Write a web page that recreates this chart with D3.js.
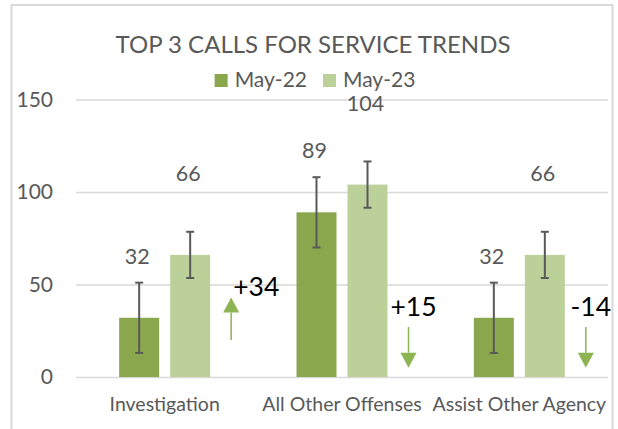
<!DOCTYPE html>
<html lang="en">
<head>
    <meta charset="UTF-8">
    <title>Top 3 Calls for Service Trends</title>
    <script src="https://cdn.jsdelivr.net/npm/d3@7/dist/d3.min.js"></script>
    <style>
        body { margin: 0; background: #fff; }
        svg text { font-family: Lato, "Liberation Sans", sans-serif; }
    </style>
</head>
<body>
<script type="text/javascript">
    // data
    var categories = ['Investigation', 'All Other Offenses', 'Assist Other Agency'];
    var seriesNames = ['May-22', 'May-23'];
    var may22 = [32, 89, 32];
    var may23 = [66, 104, 66];
    var err22 = [19, 19, 19];   // error bar half-lengths
    var err23 = [12.5, 12.5, 12.5];
    var changeLabels = ['+34', '+15', '-14'];
    var changeDir = ['up', 'down', 'down'];
    var yTicks = [0, 50, 100, 150];

    var colors = {'May-22': '#8aa74e', 'May-23': '#bcd09a'};
    var arrowColor = '#8db452';
    var gray = '#595959';

    var W = 618, H = 429;
    var svg = d3.select('body').append('svg')
            .attr('width', W)
            .attr('height', H);

    // chart border
    svg.append('rect')
            .attr('x', 11.5).attr('y', 5)
            .attr('width', 601).attr('height', 440)
            .attr('fill', 'none')
            .attr('stroke', '#d9d9d9')
            .attr('stroke-width', 2);

    var plotL = 76, plotR = 608, plotT = 99.5, plotB = 377;

    var y = d3.scaleLinear().domain([0, 150]).range([plotB, plotT]);
    var x0 = d3.scaleBand().domain(categories).range([plotL, plotR]);
    var bw = x0.bandwidth();
    var x1 = d3.scaleBand().domain(seriesNames)
            .range([bw / 2 - 45.5, bw / 2 + 45.5])
            .paddingInner(0.216);

    // y axis + gridlines
    var yAxis = svg.append('g')
            .attr('transform', 'translate(' + plotL + ',0)')
            .call(d3.axisLeft(y).tickValues(yTicks)
                    .tickSizeInner(-(plotR - plotL)).tickSizeOuter(0).tickPadding(23));
    yAxis.select('.domain').remove();
    yAxis.selectAll('line').attr('stroke', '#d9d9d9').attr('stroke-width', 1.5);
    yAxis.selectAll('text').attr('fill', gray).style('font-size', '21px');

    // x axis labels
    var xAxis = svg.append('g')
            .attr('transform', 'translate(0,' + plotB + ')')
            .call(d3.axisBottom(x0).tickSize(0).tickPadding(20.5));
    xAxis.select('.domain').remove();
    xAxis.selectAll('text').attr('fill', gray).style('font-size', '19.5px');

    var rows = categories.map(function (c, i) {
        return {
            cat: c,
            vals: [
                {s: 'May-22', v: may22[i], e: err22[i], off: 54},
                {s: 'May-23', v: may23[i], e: err23[i], off: 74}
            ]
        };
    });

    var groups = svg.selectAll('g.cat')
            .data(rows)
            .enter()
            .append('g')
            .attr('class', 'cat')
            .attr('transform', function (d) {
                return 'translate(' + x0(d.cat) + ',0)';
            });

    var bars = groups.selectAll('g.bar')
            .data(function (d) { return d.vals; })
            .enter()
            .append('g')
            .attr('class', 'bar');

    bars.append('rect')
            .attr('x', function (d) { return x1(d.s); })
            .attr('y', function (d) { return y(d.v); })
            .attr('width', x1.bandwidth())
            .attr('height', function (d) { return y(0) - y(d.v); })
            .attr('fill', function (d) { return colors[d.s]; });

    // error bars
    var cx = function (d) { return x1(d.s) + x1.bandwidth() / 2; };
    bars.append('line')
            .attr('x1', cx).attr('x2', cx)
            .attr('y1', function (d) { return y(d.v + d.e); })
            .attr('y2', function (d) { return y(d.v - d.e); })
            .attr('stroke', gray).attr('stroke-width', 2);
    [1, -1].forEach(function (sign) {
        bars.append('line')
                .attr('x1', function (d) { return cx(d) - 4; })
                .attr('x2', function (d) { return cx(d) + 4; })
                .attr('y1', function (d) { return y(d.v + sign * d.e); })
                .attr('y2', function (d) { return y(d.v + sign * d.e); })
                .attr('stroke', gray).attr('stroke-width', 2);
    });

    // value labels
    bars.append('text')
            .attr('x', function (d) { return cx(d) - 2; })
            .attr('y', function (d) { return y(d.v) - d.off; })
            .attr('text-anchor', 'middle')
            .attr('fill', gray)
            .style('font-size', '21.5px')
            .text(function (d) { return d.v; });

    // change arrows and labels
    groups.each(function (d, i) {
        var g = d3.select(this);
        var ax = bw / 2 + 66.5;
        var up = changeDir[i] === 'up';
        var tip = up ? y(43) : y(5);
        var base = up ? tip + 15 : tip - 15;
        var tail = up ? y(20) : y(27);
        g.append('line')
                .attr('x1', ax).attr('x2', ax)
                .attr('y1', tail).attr('y2', base)
                .attr('stroke', arrowColor).attr('stroke-width', 1.5);
        g.append('path')
                .attr('d', 'M' + (ax - 8) + ',' + base + 'L' + (ax + 8) + ',' + base + 'L' + ax + ',' + tip + 'Z')
                .attr('fill', arrowColor);
        g.append('text')
                .attr('x', up ? ax + 2 : ax + 5)
                .attr('y', up ? y(44) : y(33))
                .attr('text-anchor', up ? 'start' : 'middle')
                .attr('fill', '#000')
                .style('font-size', '26.5px')
                .text(changeLabels[i]);
    });

    // title
    svg.append('text')
            .attr('x', 313).attr('y', 52.5)
            .attr('text-anchor', 'middle')
            .attr('fill', gray)
            .style('font-size', '24px')
            .text('TOP 3 CALLS FOR SERVICE TRENDS');

    // legend
    var legend = svg.append('g');
    var lx = 0;
    seriesNames.forEach(function (s) {
        var item = legend.append('g').attr('transform', 'translate(' + lx + ',0)');
        item.append('rect')
                .attr('x', 0).attr('y', 74)
                .attr('width', 13).attr('height', 13)
                .attr('fill', colors[s]);
        var t = item.append('text')
                .attr('x', 20).attr('y', 87)
                .attr('fill', gray)
                .style('font-size', '21px')
                .text(s);
        lx += 20 + t.node().getComputedTextLength() + 16;
    });
    var lw = lx - 16;
    legend.attr('transform', 'translate(' + (315 - lw / 2) + ',0)');
</script>
</body>
</html>
